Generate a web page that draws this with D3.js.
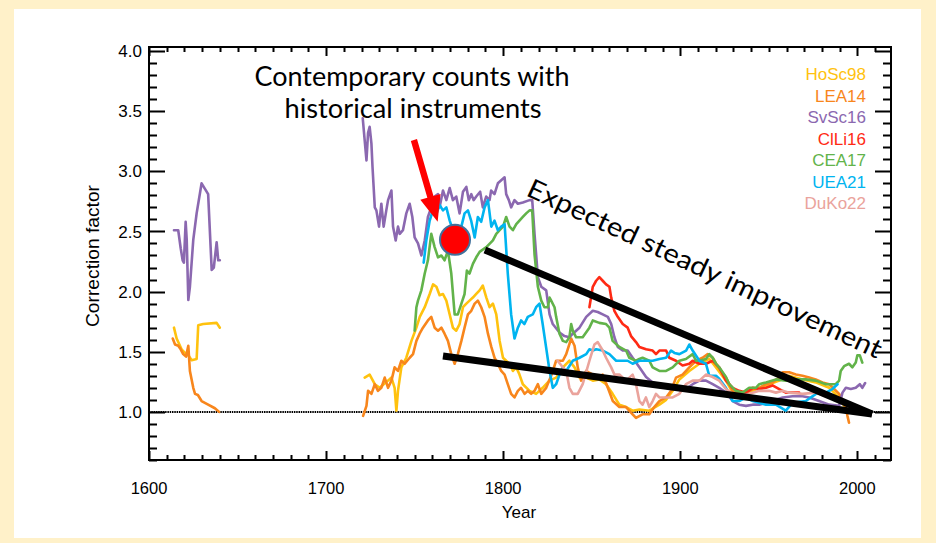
<!DOCTYPE html>
<html>
<head>
<meta charset="utf-8">
<script src="https://cdn.jsdelivr.net/npm/d3@7"></script>
<style>
	body { margin: 0; padding: 0; background: #fff1c9; }
	svg { display: block; }
</style>
</head>
<body>
<script>

// ---- data (year, correction factor) ----
var seriesNames = ["HoSc98", "LEA14", "SvSc16", "ClLi16", "CEA17", "UEA21", "DuKo22"];
var seriesColors = ["#ffc20e", "#f8861c", "#8b68b0", "#ff2a14", "#62b34a", "#00b4f0", "#eaa39c"];

var hosc98Early = [[1614.1,1.70],[1615.6,1.61],[1618.4,1.52],[1620.3,1.49],[1622.2,1.47],[1624.1,1.43],[1626.9,1.44],[1627.8,1.72],[1630.6,1.73],[1638.2,1.74],[1640,1.70]];
var lea14Early = [[1613.4,1.61],[1614.7,1.56],[1616.5,1.55],[1617.9,1.52],[1619.3,1.48],[1620.9,1.46],[1622.2,1.55],[1623.1,1.34],[1625,1.20],[1626,1.15],[1627.6,1.14],[1629.7,1.09],[1633.4,1.06],[1637.2,1.03],[1639.6,1.0]];
var svsc16Early = [[1614.1,2.51],[1616.5,2.51],[1617.9,2.36],[1619,2.26],[1619.7,2.24],[1620.7,2.58],[1621.3,2.43],[1622.2,1.93],[1623.1,2.04],[1625,2.43],[1626.9,2.65],[1629.7,2.90],[1633.4,2.81],[1635.4,2.18],[1636.6,2.20],[1638.2,2.41],[1639.1,2.26],[1640,2.26]];

var hosc98 = [[1721.8,1.285],[1724.6,1.31],[1727.5,1.23],[1730.3,1.20],[1732.5,1.23],[1735,1.26],[1736.9,1.285],[1738.7,1.20],[1739.7,1.01],[1740.6,1.175],[1742.5,1.37],[1745.3,1.45],[1748.2,1.59],[1751,1.70],[1752.9,1.79],[1755.7,1.87],[1758.5,1.98],[1760.4,2.06],[1762.3,2.04],[1764.1,1.97],[1766,1.98],[1767.9,1.925],[1769.8,1.81],[1771.6,1.70],[1773.5,1.675],[1775.4,1.73],[1777.3,1.87],[1779.2,1.90],[1781,1.925],[1782.9,1.95],[1784.8,1.98],[1786.7,2.01],[1788.5,2.05],[1790.5,1.95],[1792.3,1.87],[1794.2,1.90],[1796.1,1.81],[1798,1.59],[1799.9,1.45],[1801.7,1.425],[1803.6,1.40],[1805.5,1.34],[1807.4,1.37],[1809.2,1.31],[1811.1,1.23],[1814.9,1.175],[1818.6,1.15],[1822.3,1.20],[1826.1,1.26],[1829.9,1.285],[1833.7,1.37],[1837.4,1.425],[1840.3,1.37],[1843.1,1.285],[1846.9,1.285],[1850.6,1.26],[1854.3,1.27],[1858.1,1.23],[1861.8,1.15],[1865.6,1.06],[1869.4,1.04],[1873.1,1.01],[1876.9,1.02],[1882.5,1.01],[1888.2,1.06],[1892,1.10],[1895.7,1.175],[1899.5,1.27],[1905.1,1.34],[1910.8,1.40],[1916.4,1.44],[1920.2,1.37],[1925.8,1.26],[1929.6,1.16],[1933.3,1.13],[1940.9,1.175],[1948.4,1.22],[1955.9,1.26],[1961.5,1.30],[1969,1.27],[1976.5,1.245],[1984.1,1.20],[1989.7,1.12],[1992.5,1.05],[1994.4,1.01]];

var lea14 = [[1720.9,0.967],[1722.8,1.05],[1723.7,1.175],[1725.6,1.15],[1727.5,1.23],[1729.3,1.175],[1731.2,1.20],[1733.1,1.285],[1735,1.20],[1736.9,1.26],[1738.7,1.37],[1740.6,1.34],[1742.5,1.425],[1744.4,1.40],[1747.2,1.45],[1749.1,1.48],[1751,1.59],[1752.8,1.65],[1754.7,1.70],[1757.5,1.76],[1759.4,1.79],[1761.3,1.70],[1763.2,1.675],[1765.1,1.70],[1766.9,1.65],[1768.8,1.59],[1770.7,1.48],[1772.6,1.40],[1774.4,1.48],[1776.4,1.59],[1778.2,1.70],[1780.1,1.81],[1782,1.84],[1783.9,1.90],[1785.7,1.925],[1787.6,1.87],[1789.5,1.79],[1791.4,1.65],[1793.3,1.54],[1795.1,1.45],[1797,1.40],[1798.9,1.34],[1800.8,1.31],[1802.6,1.23],[1804.5,1.15],[1806.4,1.12],[1808.3,1.175],[1810.1,1.20],[1812.1,1.15],[1813.9,1.175],[1815.8,1.15],[1817.7,1.175],[1819.6,1.23],[1821.5,1.15],[1824.3,1.20],[1827.1,1.30],[1829.9,1.425],[1833.7,1.425],[1835.6,1.48],[1838.4,1.61],[1840.3,1.55],[1842.1,1.37],[1844,1.26],[1846.8,1.34],[1850.6,1.31],[1853.4,1.285],[1856.2,1.31],[1859.1,1.20],[1861.9,1.09],[1865.6,1.04],[1869.4,1.04],[1873.1,0.98],[1875,0.95],[1878.7,0.98],[1882.5,0.98],[1885.3,1.04],[1888.2,1.09],[1892,1.12],[1894.8,1.175],[1897.6,1.285],[1901.3,1.31],[1905.1,1.37],[1908.9,1.425],[1912.6,1.45],[1915.5,1.48],[1918.3,1.45],[1920.2,1.40],[1923,1.34],[1925.8,1.285],[1929.6,1.175],[1933.3,1.15],[1937.1,1.16],[1940.9,1.19],[1944.6,1.20],[1948.4,1.23],[1952.1,1.245],[1955.9,1.285],[1957.8,1.33],[1961.5,1.33],[1965.3,1.31],[1969,1.30],[1972.8,1.285],[1976.5,1.27],[1980.3,1.245],[1984.1,1.23],[1986.9,1.19],[1989.7,1.15],[1991.6,1.09],[1993.5,1.04],[1994.4,0.967],[1995.3,0.91]];

var svsc16 = [[1720.7,3.44],[1722.8,3.09],[1723.7,3.32],[1724.6,3.37],[1725.6,3.23],[1726.2,3.04],[1727.5,2.70],[1728.4,2.675],[1729.9,2.54],[1731.2,2.73],[1732.5,2.54],[1734,2.675],[1735,2.76],[1736.9,2.84],[1737.8,2.54],[1739.3,2.425],[1740.6,2.54],[1741.6,2.48],[1743.4,2.51],[1745.3,2.65],[1747.2,2.73],[1748.7,2.62],[1750,2.45],[1751.9,2.40],[1753.8,2.30],[1755.7,2.425],[1757.5,2.62],[1759.4,2.70],[1761.3,2.79],[1763.2,2.81],[1764.1,2.70],[1766,2.84],[1767.9,2.76],[1769.8,2.86],[1771.6,2.76],[1773.5,2.79],[1775.4,2.65],[1777.3,2.83],[1779.2,2.87],[1780.6,2.76],[1782,2.81],[1783.3,2.76],[1784.8,2.79],[1787,2.83],[1788.5,2.70],[1790.4,2.79],[1792.3,2.76],[1793.2,2.84],[1795.1,2.81],[1797,2.90],[1798.9,2.925],[1800.8,2.95],[1801.7,2.81],[1803.2,2.76],[1804.5,2.70],[1806.4,2.76],[1808.3,2.73],[1811.1,2.74],[1814.9,2.76],[1816.4,2.76],[1817.7,2.48],[1819.6,2.12],[1821.5,2.04],[1824.3,2.01],[1826.2,1.81],[1828,1.73],[1831.8,1.66],[1834.6,1.63],[1837.4,1.62],[1839.3,1.65],[1843.1,1.70],[1846.9,1.79],[1850.6,1.84],[1853.4,1.83],[1856.2,1.81],[1859.1,1.79],[1861,1.73],[1862.8,1.62],[1864.7,1.54],[1867.5,1.51],[1870.3,1.51],[1873.1,1.45],[1876.9,1.37],[1880.7,1.29],[1884.4,1.245],[1888.2,1.23],[1892,1.20],[1895.7,1.19],[1899.5,1.20],[1903.2,1.19],[1907,1.23],[1910.8,1.26],[1914.5,1.26],[1918.3,1.23],[1922,1.20],[1925.8,1.16],[1929.6,1.09],[1933.3,1.06],[1937.1,1.05],[1940.9,1.06],[1944.6,1.06],[1952.1,1.09],[1957.8,1.12],[1963.4,1.13],[1969,1.13],[1972.8,1.12],[1978.4,1.09],[1984.1,1.06],[1989.7,1.05],[1991.6,1.16],[1993.5,1.20],[1996.3,1.19],[1999.1,1.20],[2001.4,1.23],[2002.8,1.20],[2004.4,1.24]];

var clli16 = [[1848.7,1.87],[1850.6,2.04],[1852.5,2.09],[1854.3,2.12],[1856.2,2.09],[1858.1,2.06],[1860,2.04],[1861,1.95],[1862.8,1.84],[1864.7,1.79],[1867.5,1.73],[1870.3,1.70],[1872.2,1.63],[1875,1.58],[1876.9,1.54],[1880.7,1.52],[1884.4,1.51],[1886.3,1.48],[1888.2,1.51],[1892,1.51],[1893.8,1.45],[1897.6,1.425],[1901.3,1.385],[1905.1,1.40],[1907,1.425],[1910.8,1.40],[1914.5,1.40],[1918.3,1.425],[1922,1.37],[1925.8,1.26],[1929.6,1.20],[1933.3,1.175],[1937.1,1.16],[1940.9,1.20],[1944.6,1.19],[1948.4,1.20],[1952.1,1.22],[1955.9,1.19],[1959.6,1.16],[1963.4,1.16],[1967.1,1.16]];

var cea17 = [[1750,1.675],[1751,1.87],[1751.9,1.925],[1753.8,2.01],[1755.7,2.15],[1757.5,2.26],[1759.4,2.48],[1761.3,2.37],[1763.2,2.285],[1765.1,2.30],[1766.9,2.26],[1768.8,2.34],[1770.7,2.15],[1772.6,1.81],[1774.4,1.81],[1776.4,1.90],[1778.2,1.98],[1779.5,2.175],[1781,2.15],[1782.9,2.23],[1784.8,2.285],[1786.7,2.33],[1790.5,2.37],[1794.2,2.425],[1796.1,2.48],[1798,2.51],[1799.9,2.54],[1801.7,2.62],[1803.6,2.54],[1805.5,2.51],[1807.4,2.56],[1809.2,2.59],[1811.1,2.62],[1813,2.65],[1814.9,2.675],[1816.4,2.675],[1817.7,2.31],[1819.6,2.04],[1821.5,1.925],[1823.3,1.87],[1825.2,1.87],[1826.2,1.95],[1827.1,1.925],[1829,1.87],[1829.9,1.79],[1831.8,1.65],[1833.7,1.59],[1835.6,1.58],[1837.4,1.62],[1838.4,1.73],[1839.3,1.675],[1841.2,1.62],[1844.9,1.62],[1848.7,1.70],[1850.6,1.76],[1854.3,1.74],[1858.1,1.73],[1860,1.70],[1861.8,1.59],[1865.6,1.54],[1869.4,1.51],[1871.2,1.45],[1875,1.425],[1876.9,1.44],[1878.7,1.45],[1882.5,1.425],[1884.4,1.37],[1888.2,1.34],[1892,1.34],[1895.7,1.37],[1899.5,1.425],[1903.2,1.44],[1907,1.48],[1908.9,1.425],[1910.8,1.425],[1914.5,1.44],[1916.4,1.48],[1918.3,1.45],[1920.2,1.40],[1922,1.37],[1925.8,1.29],[1927.7,1.23],[1931.4,1.175],[1935.2,1.16],[1938.9,1.20],[1942.7,1.20],[1944.6,1.23],[1948.4,1.245],[1954,1.27],[1959.6,1.26],[1965.2,1.27],[1970.9,1.27],[1976.5,1.26],[1982.2,1.23],[1987.8,1.23],[1989.7,1.26],[1990.6,1.34],[1992.5,1.38],[1995.3,1.40],[1997.2,1.37],[1999.1,1.41],[2000,1.47],[2001.4,1.47],[2002.8,1.41]];

var uea21 = [[1755.1,2.24],[1756.6,2.425],[1758.5,2.59],[1760.3,2.675],[1761.9,2.63],[1764.1,2.72],[1766,2.675],[1767.9,2.70],[1769.8,2.59],[1771.6,2.51],[1775.4,2.48],[1778.2,2.65],[1780.1,2.675],[1781.9,2.59],[1783.9,2.45],[1785.7,2.62],[1787.6,2.58],[1789.5,2.70],[1791.4,2.76],[1793.3,2.54],[1795.1,2.59],[1797,2.51],[1798.9,2.54],[1800.8,2.56],[1802.6,2.15],[1804.5,1.81],[1806.4,1.61],[1808.3,1.70],[1810.1,1.76],[1812,1.73],[1813.9,1.79],[1816.7,1.81],[1818.6,1.87],[1820.5,1.90],[1822.3,1.73],[1824.2,1.54],[1826.2,1.34],[1828,1.20],[1829.9,1.23],[1831.8,1.31],[1833.7,1.37],[1835.6,1.34],[1839.3,1.425],[1843.1,1.45],[1846.9,1.48],[1848.7,1.52],[1850.6,1.51],[1852.5,1.52],[1856.2,1.51],[1860,1.48],[1863.8,1.425],[1867.5,1.425],[1870.3,1.425],[1873.1,1.40],[1876.9,1.425],[1880.7,1.425],[1884.4,1.425],[1888.2,1.44],[1892,1.45],[1894.8,1.51],[1896.7,1.49],[1899.5,1.48],[1903.3,1.51],[1905.1,1.56],[1907,1.51],[1910.8,1.425],[1914.5,1.40],[1916.4,1.30],[1920.2,1.30],[1922,1.275],[1925.8,1.20],[1929.6,1.09],[1933.3,1.09],[1937.1,1.12],[1940.9,1.09],[1948.4,1.06],[1954,1.06],[1959.6,1.01],[1963.4,1.075],[1970.9,1.09],[1976.6,1.15],[1982.2,1.16],[1985.9,1.19],[1988.8,1.23]];

var duko22 = [[1830.7,1.425],[1833.7,1.37],[1835.6,1.34],[1837.4,1.20],[1839.3,1.15],[1842.1,1.15],[1844.9,1.23],[1848.7,1.425],[1851.5,1.56],[1853.4,1.58],[1856.2,1.51],[1858.1,1.45],[1861,1.37],[1862.8,1.31],[1865.6,1.31],[1869.4,1.26],[1873.1,1.31],[1875,1.23],[1876.9,1.09],[1878.7,1.06],[1880.6,1.12],[1882.5,1.04],[1884.4,1.09],[1886.3,1.15],[1888.2,1.12],[1892,1.12],[1895.7,1.12],[1899.5,1.15],[1903.2,1.23],[1907,1.26],[1910.8,1.26],[1914.5,1.31],[1918.3,1.29],[1922,1.26],[1925.8,1.19],[1929.6,1.15],[1933.3,1.13],[1938.9,1.15],[1944.6,1.175],[1950.2,1.175],[1954,1.16],[1957.8,1.175],[1961.5,1.16],[1969,1.15],[1976.5,1.16],[1982.2,1.13]];

// each series can have more than one stretch
var seriesSegments = [
	[hosc98Early, hosc98],
	[lea14Early, lea14],
	[svsc16Early, svsc16],
	[clli16],
	[cea17],
	[uea21],
	[duko22]
];

var xTicks = [1600, 1700, 1800, 1900, 2000];
var xMinor = d3.range(1610, 2019, 10);
var yTicks = [1.0, 1.5, 2.0, 2.5, 3.0, 3.5, 4.0];
var yMinor = d3.range(6, 41).map(function(d){ return d / 10; });

// annotations, also in data units
var upperTrend = [[1789.7, 2.346], [2008.3, 0.982]];
var lowerTrend = [[1766.0, 1.464], [2008.3, 0.982]];
var arrowFromTo = [[1749.6, 3.26], [1763.0, 2.58]];
var markerPoint = [1772.8, 2.43];

// ---- canvas ----
var width = 936, height = 543;

var canvas = d3.select("body")
	.append("svg")
	.attr("width", width)
	.attr("height", height);

canvas.append("rect")
	.attr("width", width).attr("height", height)
	.attr("fill", "#fff1c9");

canvas.append("rect")
	.attr("x", 14).attr("y", 9)
	.attr("width", 907).attr("height", 529)
	.attr("fill", "#ffffff");

var left = 149, right = 891, bottom = 460, top_ = 47;
var x = d3.scaleLinear().domain([1600, 2019]).range([left, right]);
var y = d3.scaleLinear().domain([0.6, 4.033]).range([bottom, top_]);

canvas.append("clipPath").attr("id", "plotclip")
	.append("rect")
	.attr("x", left).attr("y", top_)
	.attr("width", right - left).attr("height", bottom - top_);

// reference line at 1.0
canvas.append("line")
	.attr("x1", x(1600)).attr("x2", x(2019))
	.attr("y1", y(1)).attr("y2", y(1))
	.attr("stroke", "#000")
	.attr("stroke-width", 2)
	.attr("stroke-dasharray", "1.5,0.8");

var line = d3.line()
	.x(function(d){ return x(d[0]); })
	.y(function(d){ return y(d[1]); });

var plot = canvas.append("g").attr("clip-path", "url(#plotclip)");

seriesSegments.forEach(function(segs, i){
	segs.forEach(function(seg){
		plot.append("path")
			.datum(seg)
			.attr("d", line)
			.attr("fill", "none")
			.attr("stroke", seriesColors[i])
			.attr("stroke-width", 2.6)
			.attr("stroke-linejoin", "round")
			.attr("stroke-linecap", "round");
	});
});

// ---- ticks on all four sides, pointing in, as one path ----
var tp = d3.path();
function addXTicks(vals, len){
	vals.forEach(function(v){
		var px = Math.round(x(v)) + 0.5;
		tp.moveTo(px, bottom); tp.lineTo(px, bottom - len);
		tp.moveTo(px, top_); tp.lineTo(px, top_ + len);
	});
}
function addYTicks(vals, len){
	vals.forEach(function(v){
		var py = Math.round(y(v)) + 0.5;
		tp.moveTo(left, py); tp.lineTo(left + len, py);
		tp.moveTo(right, py); tp.lineTo(right - len, py);
	});
}
addXTicks(xMinor, 5);
addXTicks(xTicks, 9);
addYTicks(yMinor, 8);
addYTicks(yTicks, 16);

canvas.append("path")
	.attr("d", tp.toString())
	.attr("fill", "none")
	.attr("stroke", "#000")
	.attr("stroke-width", 2);

// frame
canvas.append("rect")
	.attr("x", left).attr("y", top_)
	.attr("width", right - left).attr("height", bottom - top_)
	.attr("fill", "none")
	.attr("stroke", "#000")
	.attr("stroke-width", 2);

var axisFont = "'Liberation Sans', Arial, sans-serif";

canvas.append("g").selectAll("text")
	.data(xTicks)
	.enter().append("text")
	.attr("x", function(d){ return x(d); })
	.attr("y", 494)
	.attr("text-anchor", "middle")
	.style("font-family", axisFont)
	.style("font-size", "16.5px")
	.text(function(d){ return d; });

canvas.append("g").selectAll("text")
	.data(yTicks)
	.enter().append("text")
	.attr("x", 142)
	.attr("y", function(d){ return y(d); })
	.attr("dy", "0.36em")
	.attr("text-anchor", "end")
	.style("font-family", axisFont)
	.style("font-size", "17px")
	.text(function(d){ return d.toFixed(1); });

canvas.append("text")
	.attr("x", 519).attr("y", 518)
	.attr("text-anchor", "middle")
	.style("font-family", axisFont)
	.style("font-size", "17px")
	.text("Year");

canvas.append("text")
	.attr("transform", "translate(98.5,256) rotate(-90)")
	.attr("text-anchor", "middle")
	.attr("textLength", 142)
	.attr("lengthAdjust", "spacingAndGlyphs")
	.style("font-family", axisFont)
	.style("font-size", "18px")
	.text("Correction factor");

// legend, right aligned text only
canvas.append("g").selectAll("text")
	.data(seriesNames)
	.enter().append("text")
	.attr("x", 866)
	.attr("y", function(d, i){ return 80 + i * 21.5; })
	.attr("text-anchor", "end")
	.attr("fill", function(d, i){ return seriesColors[i]; })
	.style("font-family", axisFont)
	.style("font-size", "17px")
	.text(function(d){ return d; });

// ---- annotations ----
[upperTrend, lowerTrend].forEach(function(t){
	canvas.append("path")
		.datum(t)
		.attr("d", line)
		.attr("fill", "none")
		.attr("stroke", "#000")
		.attr("stroke-width", 7);
});

// red arrow, built from its two end points
var ax0 = x(arrowFromTo[0][0]), ay0 = y(arrowFromTo[0][1]);
var ax1 = x(arrowFromTo[1][0]), ay1 = y(arrowFromTo[1][1]);
var alen = Math.hypot(ax1 - ax0, ay1 - ay0);
var ux = (ax1 - ax0) / alen, uy = (ay1 - ay0) / alen;
var nx = -uy, ny = ux;
var headLen = 26, headW = 10.5, shaftW = 3.2;
var bx = ax1 - ux * headLen, by = ay1 - uy * headLen;
var arrowPts = [
	[ax0 + nx * shaftW, ay0 + ny * shaftW],
	[bx + nx * shaftW, by + ny * shaftW],
	[bx + nx * headW, by + ny * headW],
	[ax1, ay1],
	[bx - nx * headW, by - ny * headW],
	[bx - nx * shaftW, by - ny * shaftW],
	[ax0 - nx * shaftW, ay0 - ny * shaftW]
];
canvas.append("polygon")
	.attr("points", arrowPts.map(function(p){ return p.join(","); }).join(" "))
	.attr("fill", "#ff0000");

canvas.append("circle")
	.attr("cx", x(markerPoint[0]))
	.attr("cy", y(markerPoint[1]))
	.attr("r", 15)
	.attr("fill", "#ff0000")
	.attr("stroke", "#41719c")
	.attr("stroke-width", 2);

var noteFont = "Lato, 'Open Sans', sans-serif";

canvas.append("text")
	.attr("x", 412).attr("y", 86)
	.attr("text-anchor", "middle")
	.attr("textLength", 315)
	.attr("lengthAdjust", "spacingAndGlyphs")
	.style("font-family", noteFont)
	.style("font-size", "26px")
	.text("Contemporary counts with");

canvas.append("text")
	.attr("x", 413).attr("y", 118)
	.attr("text-anchor", "middle")
	.attr("textLength", 257)
	.attr("lengthAdjust", "spacingAndGlyphs")
	.style("font-family", noteFont)
	.style("font-size", "26px")
	.text("historical instruments");

canvas.append("text")
	.attr("transform", "translate(525,195) rotate(25)")
	.attr("textLength", 388)
	.attr("lengthAdjust", "spacingAndGlyphs")
	.style("font-family", noteFont)
	.style("font-size", "26.5px")
	.text("Expected steady improvement");

</script>
</body>
</html>
